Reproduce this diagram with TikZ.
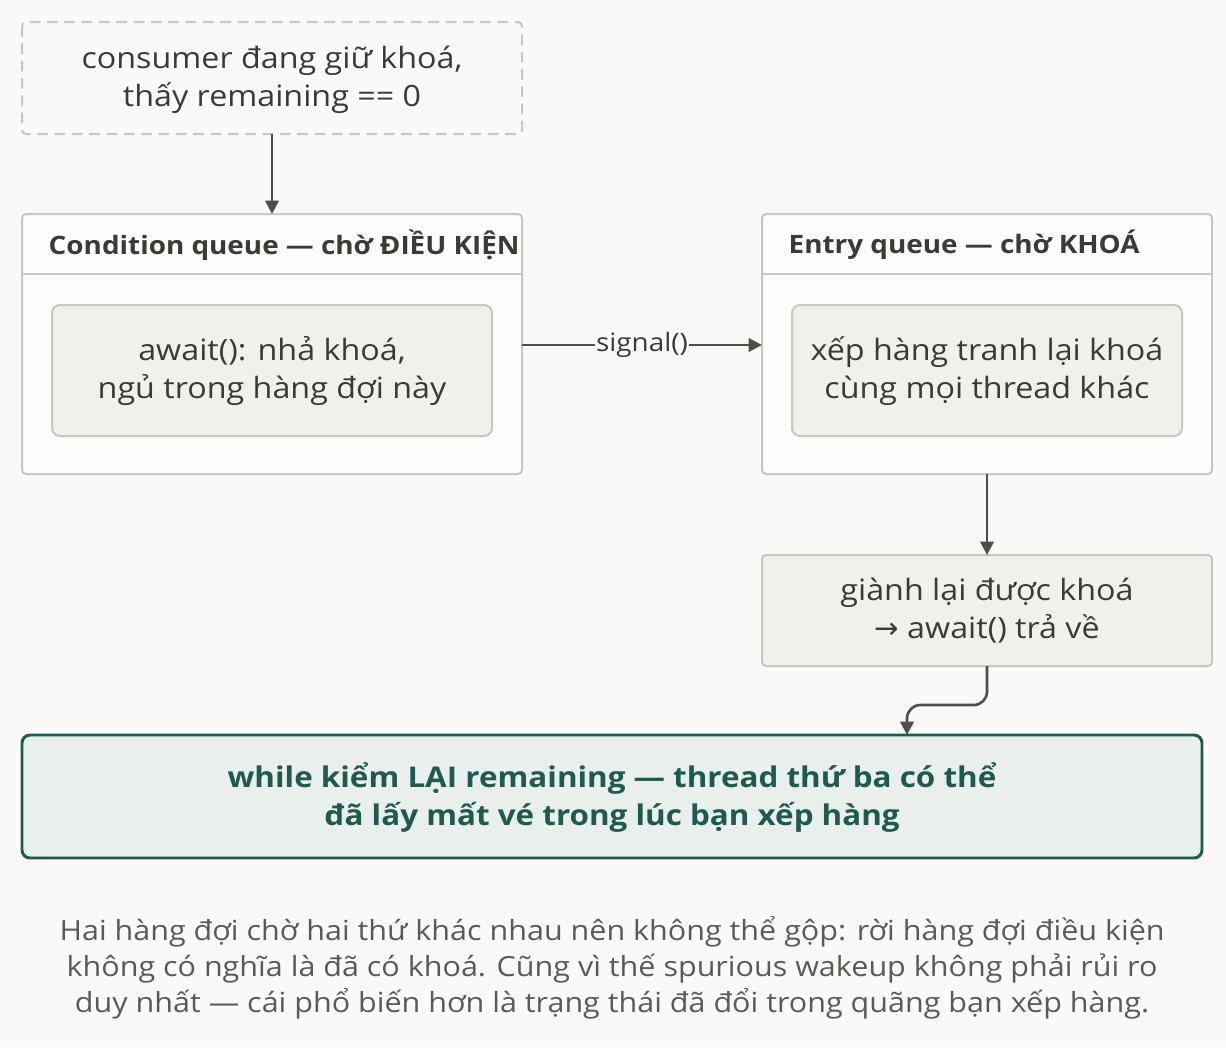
\documentclass[tikz,border=0pt]{standalone}
\usepackage{fontspec}
\setmainfont{Open Sans}[FakeStretch=1.1]
\newfontfamily\dejavu{DejaVu Sans}
\usetikzlibrary{arrows.meta}
\definecolor{bg}{HTML}{FAF9F7}
\definecolor{ink}{HTML}{3A3A36}
\definecolor{edge}{HTML}{C9C7C2}
\definecolor{fillg}{HTML}{F1F0EC}
\definecolor{teal}{HTML}{1F5A50}
\definecolor{tealf}{HTML}{E8EFEC}
\definecolor{cap}{HTML}{5A5A56}
\definecolor{line}{HTML}{4F4F4A}
\begin{document}
\begin{tikzpicture}[x=0.75pt,y=-0.75pt,
  box/.style={draw=edge,line width=1.5pt,rounded corners=3pt},
  txt/.style={text=ink,font=\fontsize{22}{28.5}\selectfont,align=center},
  hdr/.style={text=ink,font=\fontsize{19}{22}\selectfont\bfseries,anchor=west},
  arr/.style={draw=line,line width=2pt,-{Triangle[length=10pt,width=10pt]}}]
\fill[bg] (0,0) rectangle (1226,1047);
\useasboundingbox (0,0) rectangle (1226,1047);
% top
\draw[box,dashed,dash pattern=on 8pt off 5pt] (22,22) rectangle (522,134);
\node[txt] (top) at (272,80) {consumer đang giữ khoá,\\thấy remaining == 0};
\coordinate (topb) at (272,134);
% left container
\draw[box,fill=white!50!bg] (22,214) rectangle (522,474);
\draw[edge,line width=1.5pt] (22,274) -- (522,274);
\coordinate (lt) at (272,214);
\node[hdr] (lh) at (44,245) {Condition queue — chờ ĐIỀU KIỆN};
\draw[box,fill=fillg,rounded corners=6pt] (52,305) rectangle (492,436);
\node[txt] (aw) at (272,371) {await(): nhả khoá,\\ngủ trong hàng đợi này};
\coordinate (lr) at (522,345);
% right container
\draw[box,fill=white!50!bg] (762,214) rectangle (1212,474);
\draw[edge,line width=1.5pt] (762,274) -- (1212,274);
\node[hdr] (rh) at (784,245) {Entry queue — chờ KHOÁ};
\draw[box,fill=fillg,rounded corners=6pt] (792,305) rectangle (1182,436);
\node[txt] (xh) at (987,371) {xếp hàng tranh lại khoá\\cùng mọi thread khác};
\coordinate (rl) at (762,345);
\coordinate (rb) at (987,474);
% regain
\draw[box,fill=fillg] (762,555) rectangle (1212,666);
\node[txt] (gl) at (987,611) {giành lại được khoá\\{\dejavu →} await() trả về};
\coordinate (gt) at (987,555);
\coordinate (gb) at (987,666);
% teal
\draw[draw=teal,fill=tealf,line width=2.2pt,rounded corners=6pt] (22,735) rectangle (1202,858);
\node[txt,text=teal,font=\fontsize{21.4}{28.5}\selectfont\bfseries] (wh) at (612,797) {while kiểm LẠI remaining — thread thứ ba có thể\\đã lấy mất vé trong lúc bạn xếp hàng};
\coordinate (wt) at (907,735);
% arrows
\draw[arr] (topb) -- (lt);
\draw[arr] (lr) -- node[fill=bg,inner sep=1pt,text=ink,font=\fontsize{19}{20}\selectfont] (sig) {signal()} (rl);
\draw[arr] (rb) -- (gt);
\draw[arr,rounded corners=10pt] (gb) -- (987,705) -- (907,705) -- (wt);
% caption
\node[text=cap,font=\fontsize{20.8}{27}\selectfont,align=center] (cp) at (612,968) {Hai hàng đợi chờ hai thứ khác nhau nên không thể gộp: rời hàng đợi điều kiện\\không có nghĩa là đã có khoá. Cũng vì thế spurious wakeup không phải rủi ro\\duy nhất — cái phổ biến hơn là trạng thái đã đổi trong quãng bạn xếp hàng.};
\end{tikzpicture}
\end{document}
